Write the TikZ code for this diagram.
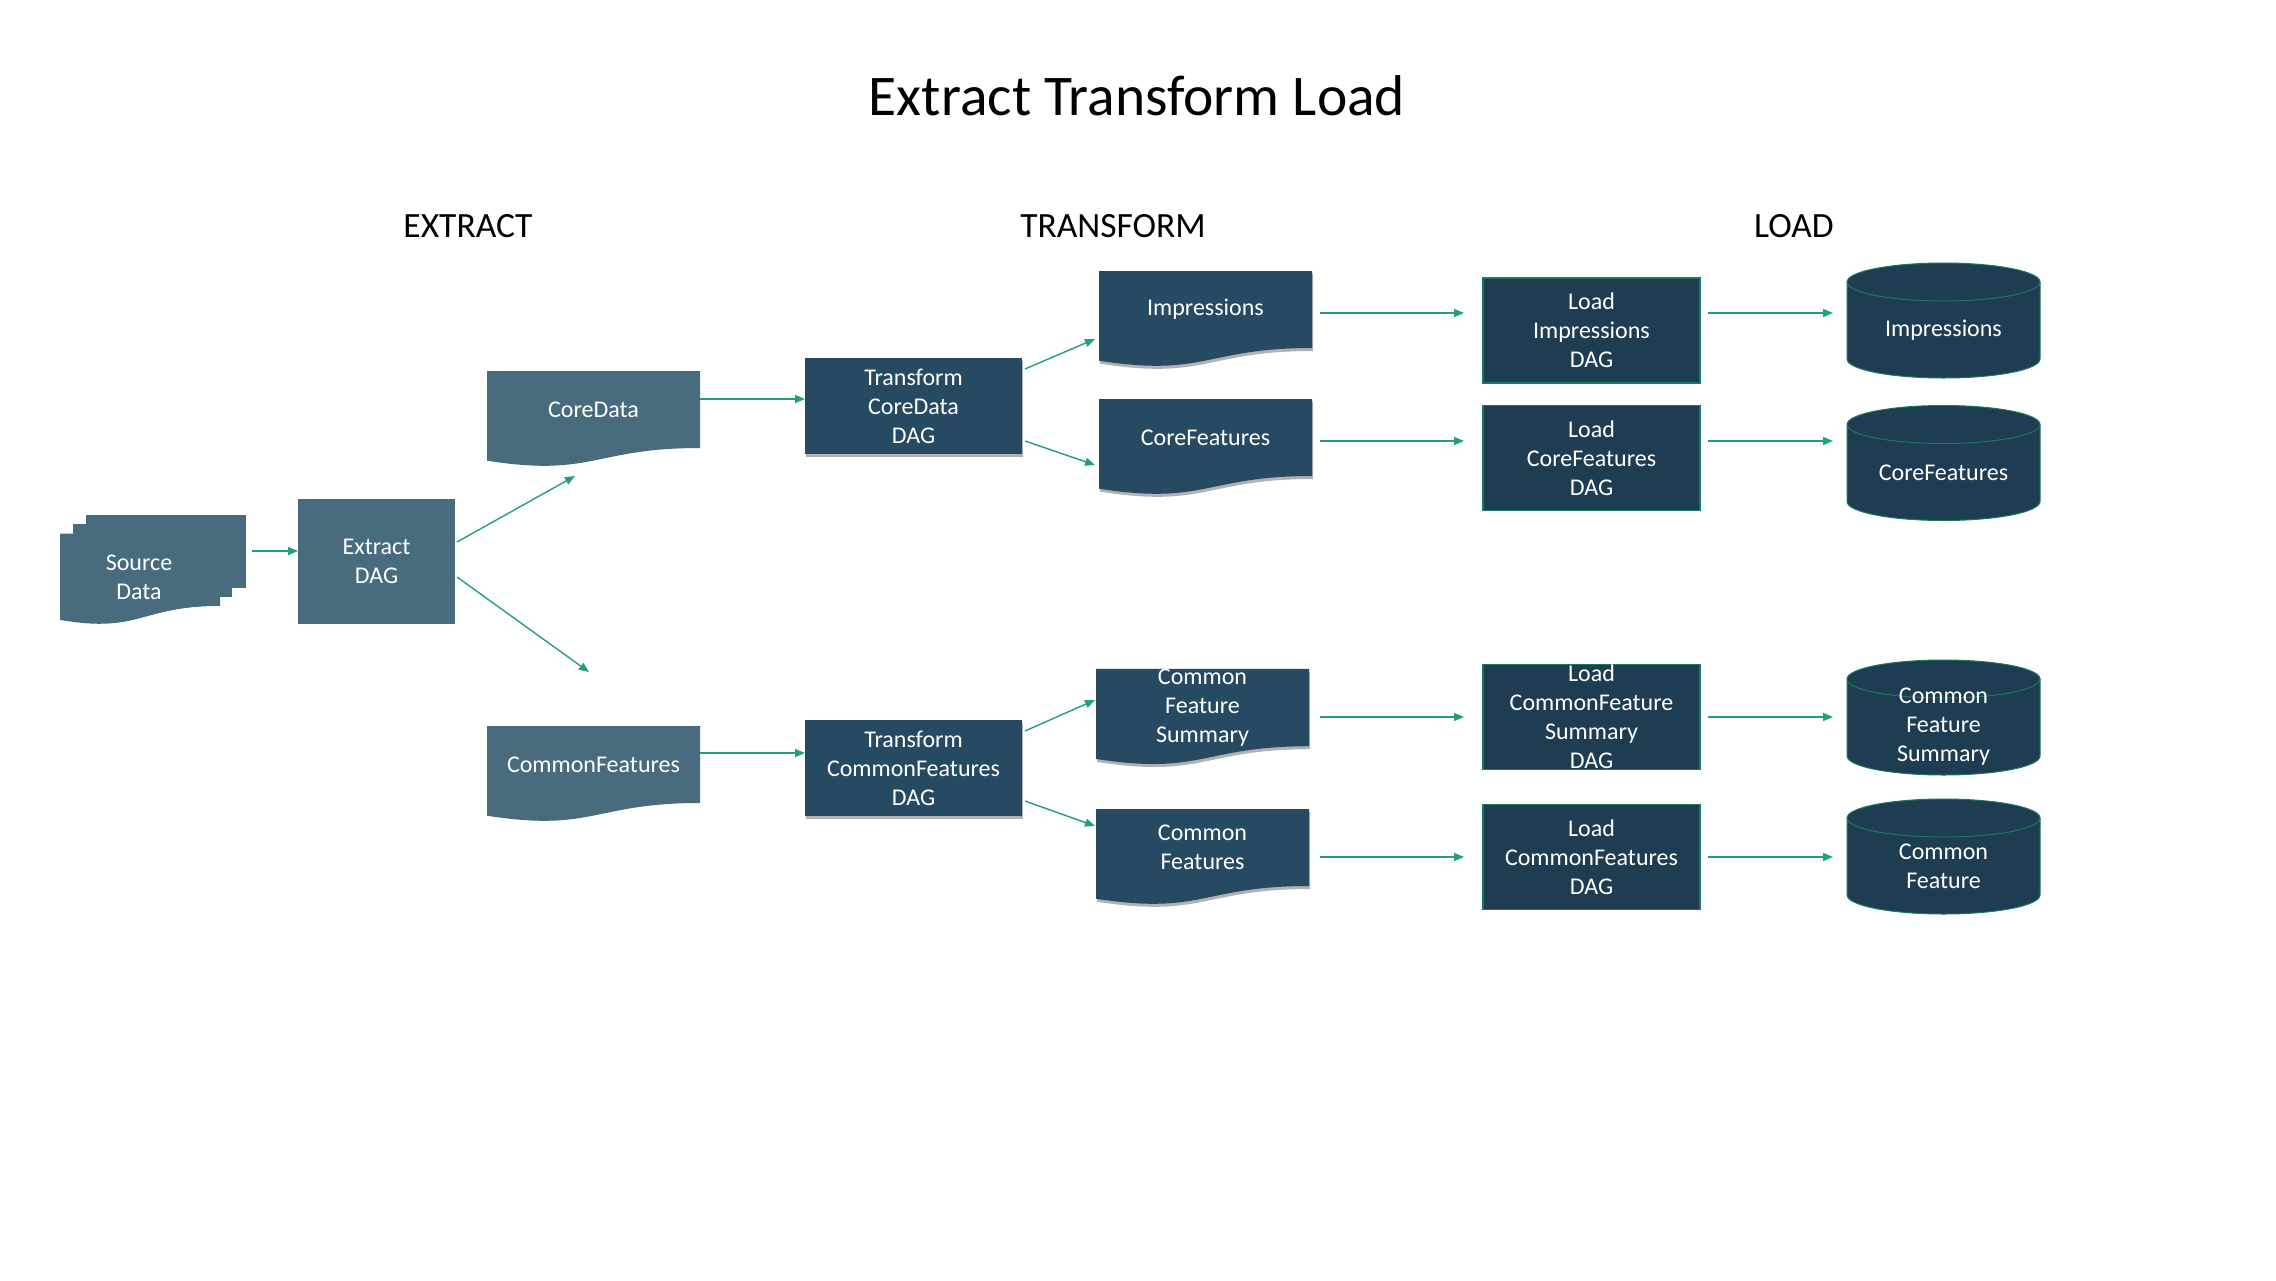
\documentclass[tikz,border=0pt]{standalone}
\usepackage{fontspec}
\setmainfont{Carlito}
\usetikzlibrary{arrows.meta,calc,backgrounds,shadows}
\definecolor{cA}{HTML}{486C7D}
\definecolor{cB}{HTML}{264A62}
\definecolor{cC}{HTML}{1F3D52}
\definecolor{gline}{HTML}{1A7A5C}
\definecolor{garr}{HTML}{22A07C}
\tikzset{
 boxtxt/.style={text=white, font=\fontsize{24}{29}\selectfont, align=center, inner sep=0pt, outer sep=0pt},
 docnode/.style={boxtxt, minimum width=213pt, minimum height=77pt},
 tbox/.style={boxtxt, fill=cB, minimum width=217pt, minimum height=96pt, shd},
 lbox/.style={boxtxt, fill=cC, draw=gline, line width=1.3pt, minimum width=217pt, minimum height=105pt},
 cylnode/.style={boxtxt, minimum width=193pt, minimum height=96pt},
 arr/.style={draw=garr, line width=1.4pt, -{Triangle[length=10pt,width=8pt]}},
 hdr/.style={font=\fontsize{35.5}{40}\selectfont, anchor=base, inner sep=0pt},
 shd/.style={drop shadow={shadow xshift=1pt, shadow yshift=-3pt, opacity=0.3, fill=black}},
}
\newcommand\docshape[3][]{%
  \path[fill=#3,#1] (#2.north west) -- (#2.north east) -- (#2.south east)
    .. controls (#2.south) and ($(#2.south)+(0,29.3)$) .. ($(#2.south west)+(0,12.7)$) -- cycle;}
\newcommand\cylshape[1]{%
  \path[fill=cC, draw=gline, line width=1pt] (#1.north west) -- ($(#1.south west)+(0,-19)$)
    arc[start angle=180, end angle=360, x radius=96.5pt, y radius=19pt] -- (#1.north east)
    arc[start angle=0, end angle=180, x radius=96.5pt, y radius=19pt] -- cycle;
  \draw[gline, line width=1pt] (#1.north west) arc[start angle=180, end angle=360, x radius=96.5pt, y radius=19pt];}
\begin{document}
\begin{tikzpicture}[x=1pt,y=-1pt]
\useasboundingbox (0,0) rectangle (2276,1280);
% titles
\node[font=\fontsize{57.5}{62}\selectfont, anchor=base, inner sep=0pt] (title) at (1137,115) {Extract Transform Load};
\node[hdr] (hE) at (468,237) {EXTRACT};
\node[hdr] (hT) at (1113,237) {TRANSFORM};
\node[hdr] (hL) at (1794,237) {LOAD};
% extract column
\node[boxtxt] (src) at (139,577) {Source\\Data};
\node[boxtxt, fill=cA, minimum width=157pt, minimum height=125pt] (ext) at (376.5,561.5) {Extract\\DAG};
\node[docnode] (core) at (593.5,409.5) {CoreData};
\node[docnode] (cfl) at (593.5,764.5) {CommonFeatures};
% transform column
\node[tbox] (tcore) at (913.5,406) {Transform\\CoreData\\DAG};
\node[tbox] (tcf) at (913.5,768) {Transform\\CommonFeatures\\DAG};
\node[docnode] (imp) at (1205.5,309.5) {Impressions};
\node[docnode] (cfeat) at (1205.5,437.5) {CoreFeatures};
\node[docnode] (cfs) at (1202.5,707.5) {Common\\Feature\\Summary};
\node[docnode] (cfd) at (1202.5,847.5) {Common\\Features};
% load column
\node[lbox] (limp) at (1591.5,330.5) {Load\\Impressions\\DAG};
\node[lbox] (lcore) at (1591.5,458) {Load\\CoreFeatures\\DAG};
\node[lbox] (lcfs) at (1591.5,717) {Load\\CommonFeature\\Summary\\DAG};
\node[lbox] (lcf) at (1591.5,857) {Load\\CommonFeatures\\DAG};
\node[cylnode] (dimp) at (1943.5,330) {Impressions};
\node[cylnode] (dcore) at (1943.5,472.5) {CoreFeatures};
\node[cylnode] (dcfs) at (1943.5,727) {Common\\Feature\\Summary};
\node[cylnode] (dcf) at (1943.5,866) {Common\\Feature};
% arrows
\coordinate (e1) at (575,476);
\coordinate (e2) at (589,672);
\draw[arr] ($(src.center)+(113,-26)$) -- ($(ext.west)+(0,-10.5)$);
\draw[arr] ($(ext.east)+(2,-19.5)$) -- (e1);
\draw[arr] ($(ext.east)+(2,15.5)$) -- (e2);
\draw[arr] ($(core.east)+(0,-10.5)$) -- ($(tcore.west)+(0,-7)$);
\draw[arr] ($(cfl.east)+(0,-11.5)$) -- ($(tcf.west)+(0,-15)$);
\draw[arr] ($(tcore.east)+(3,-37)$) -- ($(imp.west)+(-4,29.5)$);
\draw[arr] ($(tcore.east)+(3,35)$) -- ($(cfeat.west)+(-4,27.5)$);
\draw[arr] ($(tcf.east)+(3,-37)$) -- ($(cfs.west)+(-1,-7.5)$);
\draw[arr] ($(tcf.east)+(3,33)$) -- ($(cfd.west)+(-1,-21.5)$);
\draw[arr] ($(imp.east)+(8,3.5)$) -- ($(limp.west)+(-19,-17.5)$);
\draw[arr] ($(cfeat.east)+(8,3.5)$) -- ($(lcore.west)+(-19,-17)$);
\draw[arr] ($(cfs.east)+(11,9.5)$) -- ($(lcfs.west)+(-19,0)$);
\draw[arr] ($(cfd.east)+(11,9.5)$) -- ($(lcf.west)+(-19,0)$);
\draw[arr] ($(limp.east)+(8,-17.5)$) -- ($(dimp.west)+(-14,-17)$);
\draw[arr] ($(lcore.east)+(8,-17)$) -- ($(dcore.west)+(-14,-31.5)$);
\draw[arr] ($(lcfs.east)+(8,0)$) -- ($(dcfs.west)+(-14,-10)$);
\draw[arr] ($(lcf.east)+(8,0)$) -- ($(dcf.west)+(-14,-9)$);
% shapes behind text
\begin{pgfonlayer}{background}
\fill[white] (0,0) rectangle (2276,1280);
\begin{scope}[shift={(60,515)}, xscale=0.8611, yscale=0.5046]
 \fill[cA] (29.72,0) rectangle (216,143.92);
 \fill[cA] (15.32,18.15) rectangle (200,162.52);
 \fill[cA] (0,36.75) -- (185.95,36.75) -- (185.95,180.22) .. controls (92.98,180.22) and (92.98,235.42) .. (0,207.82) -- cycle;
\end{scope}
\docshape{core}{cA}
\docshape{cfl}{cA}
\docshape[shd]{imp}{cB}
\docshape[shd]{cfeat}{cB}
\docshape[shd]{cfs}{cB}
\docshape[shd]{cfd}{cB}
\cylshape{dimp}
\cylshape{dcore}
\cylshape{dcfs}
\cylshape{dcf}
\end{pgfonlayer}
\end{tikzpicture}
\end{document}
